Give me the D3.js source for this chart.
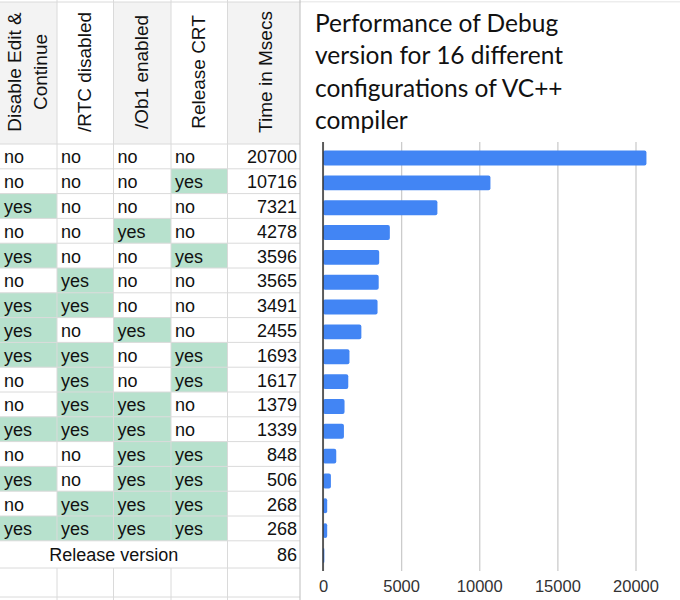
<!DOCTYPE html>
<html>
<head>
<meta charset="utf-8">
<script src="https://cdn.jsdelivr.net/npm/d3@7"></script>
<style>
  html, body { margin: 0; padding: 0; background: #fff; }
  svg { display: block; }
</style>
</head>
<body>
<svg id="chart" width="680" height="600"></svg>
<script>
// ---- data ----
const headers = [["Disable Edit &", "Continue"], ["/RTC disabled"], ["/Ob1 enabled"], ["Release CRT"], ["Time in Msecs"]];
const disableEditContinue = ["no","no","yes","no","yes","no","yes","yes","yes","no","no","yes","no","yes","no","yes"];
const rtcDisabled        = ["no","no","no","no","no","yes","yes","no","yes","yes","yes","yes","no","no","yes","yes"];
const ob1Enabled         = ["no","no","no","yes","no","no","no","yes","no","no","yes","yes","yes","yes","yes","yes"];
const releaseCRT         = ["no","yes","no","no","yes","no","no","no","yes","yes","no","no","yes","yes","yes","yes"];
const timesMsecs = [20700,10716,7321,4278,3596,3565,3491,2455,1693,1617,1379,1339,848,506,268,268];
const releaseLabel = "Release version";
const releaseTime = 86;
const barCategories = ["C1","C2","C3","C4","C5","C6","C7","C8","C9","C10","C11","C12","C13","C14","C15","C16","Release"];
const barValues = timesMsecs.concat([releaseTime]);
const xTicks = [0, 5000, 10000, 15000, 20000];
const titleLines = ["Performance of Debug", "version for 16 different", "configurations of VC++", "compiler"];

// ---- layout ----
const svg = d3.select("#chart");
const colX = [0, 57, 113.5, 171, 227.5, 300];
const headTop = 2, headBottom = 144, rowH = 24.8;
const nRows = timesMsecs.length;
const releaseTop = headBottom + nRows * rowH;
const releaseBottom = 568, emptyBottom = 597;
const green = "#b7e1cd", gridC = "#dadada";
const tableFont = "'Liberation Sans', Arial, sans-serif";
const cellSize = 18;

// header backgrounds
const headFill = ["#f3f3f3", "#ffffff", "#f3f3f3", "#ffffff", "#f3f3f3"];
headers.forEach((h, i) => {
  svg.append("rect").attr("x", colX[i]).attr("y", headTop).attr("width", colX[i+1]-colX[i]).attr("height", headBottom-headTop).attr("fill", headFill[i]);
});
// cell fills
const cols = [disableEditContinue, rtcDisabled, ob1Enabled, releaseCRT];
cols.forEach((col, ci) => {
  col.forEach((v, ri) => {
    if (v === "yes") {
      svg.append("rect").attr("x", colX[ci]).attr("y", headBottom + ri*rowH)
        .attr("width", colX[ci+1]-colX[ci]).attr("height", rowH).attr("fill", green);
    }
  });
});

// grid lines of table
const hLines = [headTop, headBottom];
for (let i = 1; i <= nRows; i++) hLines.push(headBottom + i*rowH);
hLines.push(releaseBottom, emptyBottom);
hLines.forEach(y => svg.append("line").attr("x1", 0).attr("x2", 300).attr("y1", y).attr("y2", y).attr("stroke", gridC).attr("stroke-width", 1));
svg.append("line").attr("x1", 300).attr("x2", 680).attr("y1", headTop).attr("y2", headTop).attr("stroke", gridC);
colX.forEach((x, i) => {
  if (i === 0) return;
  if (i < 5) {
    svg.append("line").attr("x1", x).attr("x2", x).attr("y1", 0).attr("y2", releaseTop).attr("stroke", gridC);
    svg.append("line").attr("x1", x).attr("x2", x).attr("y1", releaseBottom).attr("y2", 600).attr("stroke", gridC);
  } else {
    svg.append("line").attr("x1", x).attr("x2", x).attr("y1", 0).attr("y2", 600).attr("stroke", "#bdbdbd");
  }
});
svg.append("line").attr("x1", 227.5).attr("x2", 227.5).attr("y1", releaseTop).attr("y2", releaseBottom).attr("stroke", gridC);

// header text (rotated)
headers.forEach((lines, i) => {
  const cx = (colX[i] + colX[i+1]) / 2 + (i === 4 ? 3 : 0) - 1;
  const spacing = 25.5;
  lines.forEach((t, li) => {
    const x = cx + (li - (lines.length - 1) / 2) * spacing;
    svg.append("text").attr("transform", `translate(${x},72) rotate(-90)`)
      .attr("text-anchor", "middle").attr("dominant-baseline", "central")
      .attr("font-family", tableFont).attr("font-size", 19).attr("fill", "#111").text(t);
  });
});

// cell text
cols.forEach((col, ci) => {
  col.forEach((v, ri) => {
    svg.append("text").attr("x", colX[ci] + 4).attr("y", headBottom + ri*rowH + rowH/2 + 7)
      .attr("font-family", tableFont).attr("font-size", cellSize).attr("fill", "#111").text(v);
  });
});
timesMsecs.forEach((v, ri) => {
  svg.append("text").attr("x", 297).attr("y", headBottom + ri*rowH + rowH/2 + 7)
    .attr("text-anchor", "end").attr("font-family", tableFont).attr("font-size", cellSize).attr("fill", "#111").text(v);
});
const relMid = (releaseTop + releaseBottom) / 2;
svg.append("text").attr("x", 227.5/2).attr("y", relMid + 7).attr("text-anchor", "middle")
  .attr("font-family", tableFont).attr("font-size", cellSize).attr("fill", "#111").text(releaseLabel);
svg.append("text").attr("x", 297).attr("y", relMid + 7).attr("text-anchor", "end")
  .attr("font-family", tableFont).attr("font-size", cellSize).attr("fill", "#111").text(releaseTime);

// ---- chart ----
svg.append("rect").attr("x", 301).attr("y", 2.5).attr("width", 379).attr("height", 597.5).attr("fill", "#fff");
const titleFont = "Lato, 'Open Sans', sans-serif";
titleLines.forEach((t, i) => {
  svg.append("text").attr("x", 315).attr("y", 32 + i*32.4)
    .attr("font-family", titleFont).attr("font-size", 24.5).attr("fill", "#111").text(t);
});

const x = d3.scaleLinear().domain([0, 20000]).range([323, 635.5]);
const y = d3.scaleBand().domain(barCategories).range([145.6, 567.9]).paddingInner(0.4).paddingOuter(0.2);

const gridTop = 142, gridBottom = 571;
const gx = svg.append("g").attr("transform", `translate(0,${gridBottom})`)
  .call(d3.axisBottom(x).tickValues(xTicks).tickSize(-(gridBottom - gridTop)).tickFormat(d3.format("d")));
gx.select(".domain").remove();
gx.selectAll(".tick line").attr("stroke", "#cccccc").attr("stroke-width", 1.3);
gx.selectAll(".tick text").attr("font-family", tableFont).attr("font-size", 16.5).attr("fill", "#333").attr("dy", "1.1em");

svg.append("g").selectAll("rect").data(barValues).join("rect")
  .attr("x", x(0)).attr("y", (d, i) => y(barCategories[i]))
  .attr("width", d => x(d) - x(0)).attr("height", y.bandwidth())
  .attr("rx", 2).attr("fill", "#4285f4");

svg.append("line").attr("x1", x(0)).attr("x2", x(0)).attr("y1", gridTop).attr("y2", gridBottom)
  .attr("stroke", "#333").attr("stroke-width", 1.5);
</script>
</body>
</html>
